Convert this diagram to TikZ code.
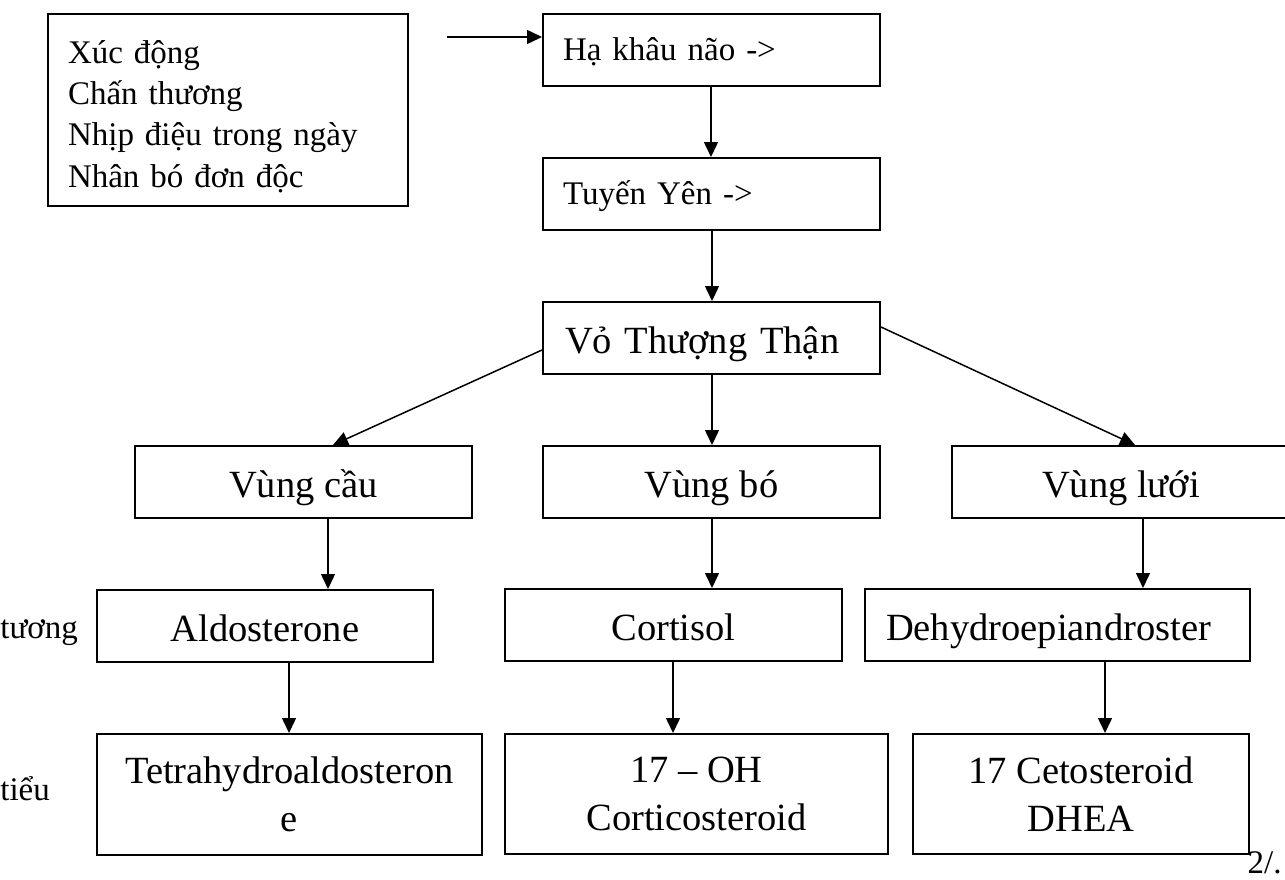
\documentclass[tikz,border=0pt]{standalone}
\usepackage{fontspec}
\setmainfont{Liberation Serif}
\usetikzlibrary{arrows.meta, positioning}

\begin{document}
\begin{tikzpicture}[
  x=0.5pt, y=-0.5pt,
  small/.style={font=\fontsize{16.5}{20.6}\selectfont},
  big/.style={font=\fontsize{19.25}{24}\selectfont},
  box/.style={draw, line width=1pt, inner sep=0pt, minimum height=36pt},
  lbox/.style={box, small, align=left, inner xsep=10pt, text width=#1,
               text height=14pt, text depth=4pt},
  cbox/.style={box, big, align=center, minimum width=#1,
               text height=19pt, text depth=3.5pt},
  tbox/.style={box, big, align=center, minimum width=#1, minimum height=60pt},
  arr/.style={-{Triangle[length=7.5pt, width=7pt]}, line width=0.75pt},
]
\useasboundingbox (0,0) rectangle (1285,879);
% Causes
\node[box, small, align=left, inner xsep=10pt, text width=160pt,
      minimum height=96pt] (cause) at (228,110)
  {\rule{0pt}{18pt}Xúc động\\Chấn thương\\Nhịp điệu trong ngày\\Nhân bó đơn độc};
% Axis
\node[lbox=148.5pt] (ha) at (711.5,50) {Hạ khâu não ->};
\node[lbox=148.5pt] (tuyen) at (711.5,194) {Tuyến Yên ->};
\node[lbox=146.5pt, big, inner xsep=11pt, text height=19pt,
      text depth=3.5pt] (vo) at (711.5,338) {Vỏ Thượng Thận};
% Zones
\node[cbox=168.5pt] (cau) at (303.5,482) {Vùng cầu};
\node[cbox=168.5pt] (bo) at (711.5,482) {Vùng bó};
\node[cbox=169pt] (luoi) at (1121,482) {Vùng lưới};
% Hormones
\node[cbox=168pt] (aldo) at (265,626) {Aldosterone};
\node[cbox=168.5pt] (cort) at (673.5,625) {Cortisol};
\node[lbox=171.5pt, big, inner xsep=10.5pt, text height=19pt,
      text depth=3.5pt] (dhea) at (1057.5,625) {Dehydroepiandroster};
% Metabolites
\node[tbox=192.5pt, minimum height=60.5pt] (tetra) at (289.5,794.5)
  {Tetrahydroaldosteron\\e};
\node[tbox=191.5pt] (oh) at (696.5,794) {17 – OH\\Corticosteroid};
\node[tbox=168pt] (ceto) at (1081,794) {17 Cetosteroid\\DHEA};
% Side labels
\node[small, anchor=base west, inner sep=0pt] (plasma) at (0,638) {tương};
\node[small, anchor=base west, inner sep=0pt] (urine) at (0,800) {tiểu};
\node[small, anchor=base east, inner sep=0pt] (page) at (1282,873) {2/.};
% Arrows
\coordinate (src) at (447,37);
\draw[arr] (src) -- (src -| ha.west);
\foreach \a/\b/\x in {ha/tuyen/711, tuyen/vo/712, vo/bo/712,
  cau/aldo/328, bo/cort/712, luoi/dhea/1143,
  aldo/tetra/289, cort/oh/673, dhea/ceto/1105}{
  \draw[arr] (\a.south -| \x,0) -- (\b.north -| \x,0);
}
\draw[arr] ([yshift=-6pt]vo.west) -- ([xshift=14.75pt]cau.north);
\draw[arr] ([yshift=5.5pt]vo.east) -- ([xshift=7pt]luoi.north);
\end{tikzpicture}
\end{document}
